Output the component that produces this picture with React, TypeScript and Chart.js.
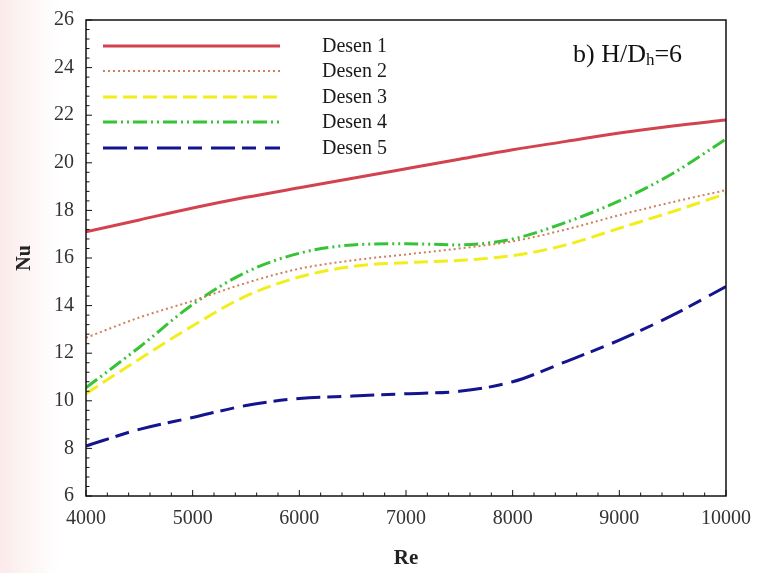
import React, { useEffect, useRef } from "react";
import { Chart, registerables } from "chart.js";

Chart.register(...registerables);

// ---- data ----
const RE = [4000, 4500, 5000, 5500, 6000, 6500, 7000, 7500, 8000, 8500, 9000, 9500, 10000];
const DESEN_1 = [17.1, 17.6, 18.1, 18.55, 18.95, 19.35, 19.75, 20.15, 20.55, 20.9, 21.25, 21.55, 21.8];
const DESEN_2 = [12.65, 13.5, 14.2, 14.95, 15.55, 15.9, 16.15, 16.4, 16.7, 17.2, 17.8, 18.35, 18.85];
const DESEN_3 = [10.3, 11.75, 13.15, 14.4, 15.2, 15.65, 15.8, 15.9, 16.1, 16.55, 17.25, 17.95, 18.7];
const DESEN_4 = [10.55, 12.25, 14.05, 15.4, 16.2, 16.55, 16.6, 16.55, 16.8, 17.5, 18.4, 19.55, 21.0];
const DESEN_5 = [8.1, 8.8, 9.3, 9.8, 10.1, 10.2, 10.3, 10.4, 10.8, 11.65, 12.55, 13.6, 14.8];
const SERIES_NAMES = ["Desen 1", "Desen 2", "Desen 3", "Desen 4", "Desen 5"];
const SERIES_VALUES = [DESEN_1, DESEN_2, DESEN_3, DESEN_4, DESEN_5];
const X_MIN = 4000;
const X_MAX = 10000;
const Y_MIN = 6;
const Y_MAX = 26;
const X_TITLE = "Re";
const Y_TITLE = "Nu";
const ANNOT_MAIN = "b) H/D";
const ANNOT_SUB = "h";
const ANNOT_END = "=6";

// ---- styles ----
const COLORS = ["#d2434f", "#cf7f5c", "#f2ee1c", "#35c435", "#14148f"];
const DASHES: number[][] = [[], [2, 3], [14, 6], [14, 4, 2, 4, 2, 4], [24, 7, 14, 9]];
const WIDTHS = [3, 2, 3, 3, 3];
const SERIF = "'Liberation Serif', 'Times New Roman', serif";

const framePlugin = {
  id: "frame",
  afterDatasetsDraw(chart: any) {
    const { ctx, chartArea: a, scales } = chart;
    const xs = scales.x;
    const ys = scales.y;
    ctx.save();
    // frame
    ctx.strokeStyle = "#111";
    ctx.lineWidth = 1.5;
    ctx.setLineDash([]);
    ctx.strokeRect(a.left, a.top, a.right - a.left, a.bottom - a.top);
    // inward ticks
    ctx.lineWidth = 1;
    for (let v = X_MIN; v <= X_MAX + 1e-6; v += 200) {
      const px = xs.getPixelForValue(v);
      const major = Math.abs(v % 1000) < 1e-6;
      const len = major ? 6 : 3.5;
      ctx.beginPath();
      ctx.moveTo(px, a.bottom);
      ctx.lineTo(px, a.bottom - len);
      ctx.stroke();
    }
    for (let v = Y_MIN; v <= Y_MAX + 1e-6; v += 0.4) {
      const py = ys.getPixelForValue(v);
      const major = Math.abs(Math.round(v * 10) % 20) < 1e-6;
      const len = major ? 6 : 3.5;
      ctx.beginPath();
      ctx.moveTo(a.left, py);
      ctx.lineTo(a.left + len, py);
      ctx.stroke();
    }
    // legend
    const rowY = [46, 71, 97, 122, 148];
    const x0 = a.left + 17;
    const x1 = a.left + 194;
    const tx = a.left + 236;
    ctx.font = `20px ${SERIF}`;
    ctx.textBaseline = "middle";
    ctx.textAlign = "left";
    SERIES_NAMES.forEach((name, i) => {
      const y = rowY[i];
      ctx.strokeStyle = COLORS[i];
      ctx.lineWidth = WIDTHS[i];
      ctx.setLineDash(DASHES[i]);
      ctx.beginPath();
      ctx.moveTo(x0, y);
      ctx.lineTo(x1, y);
      ctx.stroke();
      ctx.setLineDash([]);
      ctx.fillStyle = "#1a1a1a";
      ctx.fillText(name, tx, y + 1);
    });
    // annotation
    ctx.fillStyle = "#111";
    ctx.textBaseline = "alphabetic";
    ctx.font = `26px ${SERIF}`;
    let ax = 573;
    const ay = 62;
    ctx.fillText(ANNOT_MAIN, ax, ay);
    ax += ctx.measureText(ANNOT_MAIN).width;
    ctx.font = `17px ${SERIF}`;
    ctx.fillText(ANNOT_SUB, ax, ay + 3);
    ax += ctx.measureText(ANNOT_SUB).width;
    ctx.font = `26px ${SERIF}`;
    ctx.fillText(ANNOT_END, ax, ay);
    ctx.restore();
  },
};

export default function App() {
  const ref = useRef<HTMLCanvasElement | null>(null);
  useEffect(() => {
    document.body.style.margin = "0";
    const canvas = ref.current;
    if (!canvas) return;
    const chart = new Chart(canvas, {
      type: "line",
      data: {
        datasets: SERIES_VALUES.map((vals, i) => ({
          label: SERIES_NAMES[i],
          data: RE.map((x, j) => ({ x, y: vals[j] })),
          borderColor: COLORS[i],
          backgroundColor: COLORS[i],
          borderWidth: WIDTHS[i],
          borderDash: DASHES[i],
          pointRadius: 0,
          cubicInterpolationMode: "monotone" as const,
          fill: false,
        })),
      },
      options: {
        responsive: false,
        animation: false,
        events: [],
        layout: { padding: { top: 20, right: 31, left: 0, bottom: 0 } },
        plugins: {
          legend: { display: false },
          tooltip: { enabled: false },
        },
        scales: {
          x: {
            type: "linear",
            min: X_MIN,
            max: X_MAX,
            afterFit: (s: any) => {
              s.height = 77;
              s.paddingLeft = 0;
              s.paddingRight = 0;
            },
            ticks: {
              stepSize: 1000,
              autoSkip: false,
              maxRotation: 0,
              padding: 11,
              color: "#333",
              font: { family: SERIF, size: 20 },
              callback: (v: any) => String(v),
            },
            grid: { display: true, drawOnChartArea: false, drawTicks: false, color: "rgba(0,0,0,0)" },
            border: { display: false },
            title: {
              display: true,
              text: X_TITLE,
              color: "#222",
              font: { family: SERIF, size: 21, weight: "bold" },
              padding: { top: 0, bottom: 2 },
            },
          },
          y: {
            type: "linear",
            min: Y_MIN,
            max: Y_MAX,
            afterFit: (s: any) => {
              s.width = 86;
              s.paddingTop = 0;
              s.paddingBottom = 0;
            },
            ticks: {
              stepSize: 2,
              padding: 12,
              color: "#333",
              font: { family: SERIF, size: 20 },
            },
            grid: { display: true, drawOnChartArea: false, drawTicks: false, color: "rgba(0,0,0,0)" },
            border: { display: false },
            title: {
              display: true,
              text: Y_TITLE,
              color: "#222",
              font: { family: SERIF, size: 20, weight: "bold" },
              padding: { top: 13, bottom: 0 },
            },
          },
        },
      },
      plugins: [framePlugin],
    });
    return () => chart.destroy();
  }, []);
  return (
    <div
      style={{
        width: 757,
        height: 573,
        background: "linear-gradient(to right, #fbeaea 0px, #fdf4f4 25px, #ffffff 60px)",
      }}
    >
      <canvas ref={ref} width={757} height={573} style={{ display: "block" }} />
    </div>
  );
}
